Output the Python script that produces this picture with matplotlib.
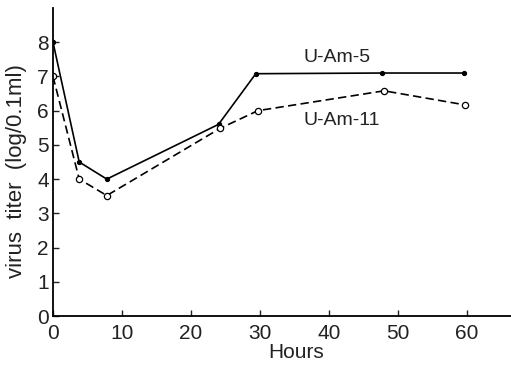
import matplotlib
matplotlib.use("Agg")
import matplotlib.pyplot as plt

# U-Am-5 (solid line, filled dots)
hours_am5 = [0, 3.8, 7.8, 24.0, 29.4, 47.7, 59.6]
titer_am5 = [8.0, 4.5, 4.0, 5.6, 7.08, 7.1, 7.1]

# U-Am-11 (dashed line, open circles)
hours_am11 = [0, 3.8, 7.8, 24.2, 29.7, 48.0, 59.7]
titer_am11 = [7.0, 4.0, 3.52, 5.48, 6.0, 6.58, 6.17]

x_ticks = [0, 10, 20, 30, 40, 50, 60]
y_ticks = [0, 1, 2, 3, 4, 5, 6, 7, 8]

plt.rcParams["font.family"] = ["Liberation Sans", "DejaVu Sans"]

fig = plt.figure(figsize=(5.11, 3.71), dpi=100)
ax = fig.add_axes([53 / 511, 1 - 316 / 371, 1 - 53 / 511, (316 - 8) / 371])

ax.plot(hours_am5, titer_am5, color="black", linewidth=1.2, linestyle="-",
        marker="o", markersize=3, markerfacecolor="black", markeredgewidth=0.8)
ax.plot(hours_am11, titer_am11, color="black", linewidth=1.2, linestyle=(0, (5, 2.6)),
        marker="o", markersize=4.5, markerfacecolor="white", markeredgewidth=0.9)

ax.text(41.2, 7.56, "U-Am-5", fontsize=14, ha="center", va="center", color="#222222")
ax.text(41.9, 5.72, "U-Am-11", fontsize=14, ha="center", va="center", color="#222222")

ax.set_xlim(0, 66.4)
ax.set_ylim(0, 9)
ax.set_xticks(x_ticks)
ax.set_yticks(y_ticks)
ax.tick_params(direction="in", length=4, width=1, labelsize=15, colors="#222222")
ax.tick_params(axis="x", pad=6)
ax.tick_params(axis="y", pad=3)

for side in ["top", "right"]:
    ax.spines[side].set_visible(False)
for side in ["left", "bottom"]:
    ax.spines[side].set_linewidth(1.3)

ax.set_xlabel("Hours", fontsize=15, color="#222222")
ax.xaxis.set_label_coords(0.53, -0.088)
ax.set_ylabel("virus  titer  (log/0.1ml)", fontsize=16, color="#222222")
ax.yaxis.set_label_coords(-0.057, 0.47)

fig.savefig("out.png", dpi=100)
